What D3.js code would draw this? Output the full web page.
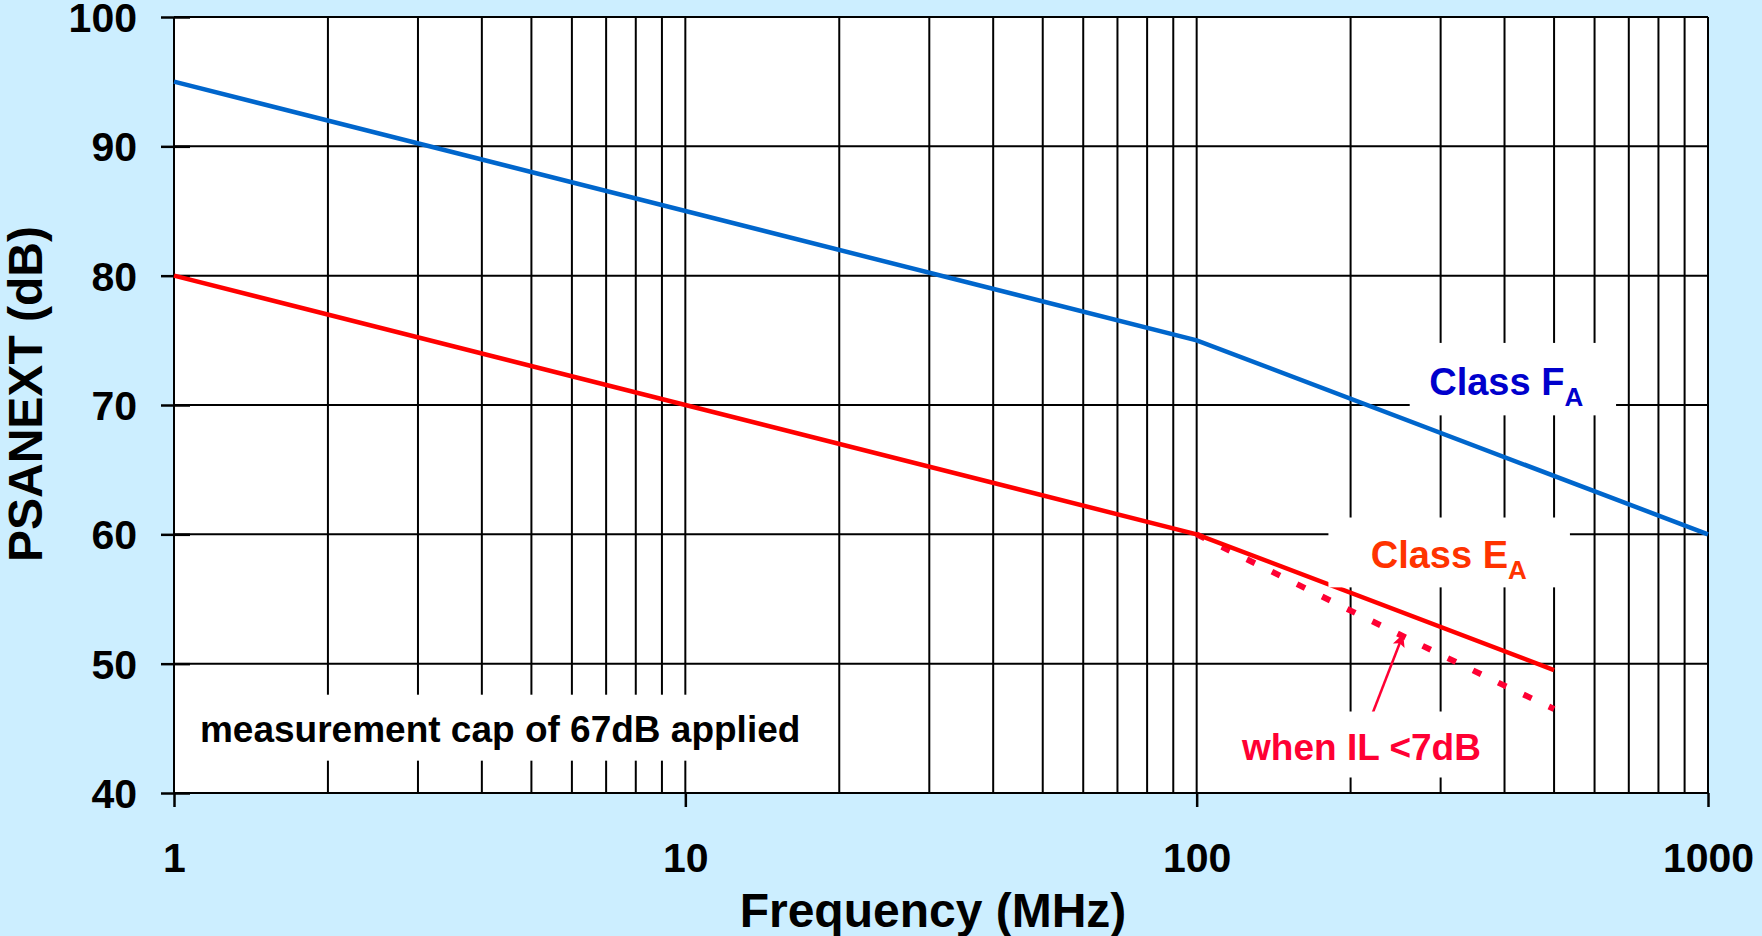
<!DOCTYPE html>
<html>
<head>
<meta charset="utf-8">
<script src="https://cdn.jsdelivr.net/npm/d3@7"></script>
<style>
  body { margin: 0; background: #cceeff; }
  text { font-family: "Liberation Sans", Arial, sans-serif; font-weight: bold; }
</style>
</head>
<body>
<div id="chart"></div>
<script>
// Chart data (frequency in MHz, PSANEXT in dB)
const freqF = [1, 100, 1000];
const classF = [95, 75, 60];
const freqE = [1, 100, 500];
const classE = [80, 60, 49.5];
const freqIL = [100, 200, 300, 400, 500];
const classEIL = [60, 54.1, 50.7, 48.3, 46.5];
const xTicks = [1, 10, 100, 1000];
const yTicks = [40, 50, 60, 70, 80, 90, 100];

// Set graph properties
const width = 1762;
const height = 936;
const margin = { top: 17, bottom: 143, left: 174, right: 54 };

const svg = d3.select('#chart')
    .append('svg')
    .attr('width', width)
    .attr('height', height);

const x = d3.scaleLog()
    .domain([1, 1000])
    .range([margin.left, width - margin.right]);

const y = d3.scaleLinear()
    .domain([40, 100])
    .range([height - margin.bottom, margin.top]);

// White plotting area
svg.append('rect')
    .attr('x', x(1)).attr('y', y(100))
    .attr('width', x(1000) - x(1)).attr('height', y(40) - y(100))
    .attr('fill', '#fff');

// Grid lines, one per log tick and per 10 dB
const grid = svg.append('g').attr('stroke', '#000').attr('stroke-width', 2);
grid.selectAll('.v')
    .data(x.ticks())
    .join('line')
    .attr('x1', d => x(d)).attr('x2', d => x(d))
    .attr('y1', y(100)).attr('y2', y(40));
grid.selectAll('.h')
    .data(yTicks)
    .join('line')
    .attr('x1', x(1)).attr('x2', x(1000))
    .attr('y1', d => y(d)).attr('y2', d => y(d));

// Axes
function yAxis(g) {
    g.attr('transform', `translate(${margin.left},0)`)
        .call(d3.axisLeft(y).tickValues(yTicks).tickSize(13).tickPadding(24))
        .call(g => g.select('.domain').remove())
        .attr('font-size', '41px');
    g.selectAll('.tick line').attr('x1', 16).attr('stroke-width', 2.5);
    g.selectAll('.tick text').attr('dy', 14.5);
}

function xAxis(g) {
    g.attr('transform', `translate(0,${height - margin.bottom})`)
        .call(d3.axisBottom(x).tickValues(xTicks).tickFormat(d3.format('d')).tickSize(14).tickPadding(36))
        .call(g => g.select('.domain').remove())
        .attr('font-size', '41px');
    g.selectAll('.tick line').attr('stroke-width', 2.5);
}

svg.append('g').call(xAxis);
svg.append('g').call(yAxis);
svg.selectAll('.tick text').attr('fill', '#000').attr('font-family', '"Liberation Sans", Arial, sans-serif');

// Axis titles
svg.append('text')
    .attr('x', 933).attr('y', 927)
    .attr('text-anchor', 'middle')
    .attr('font-size', '48px')
    .text('Frequency (MHz)');

svg.append('text')
    .attr('transform', 'translate(42,394) rotate(-90)')
    .attr('text-anchor', 'middle')
    .attr('font-size', '48px')
    .text('PSANEXT (dB)');

// Limit lines
const line = d3.line().x(d => x(d[0])).y(d => y(d[1]));

svg.append('path')
    .datum(d3.zip(freqIL, classEIL))
    .attr('d', line)
    .attr('fill', 'none')
    .attr('stroke', '#ff0033')
    .attr('stroke-width', 6)
    .attr('stroke-dasharray', '9,19');

svg.append('path')
    .datum(d3.zip(freqE, classE))
    .attr('d', line)
    .attr('fill', 'none')
    .attr('stroke', '#ff0000')
    .attr('stroke-width', 4.5);

svg.append('path')
    .datum(d3.zip(freqF, classF))
    .attr('d', line)
    .attr('fill', 'none')
    .attr('stroke', '#0066cc')
    .attr('stroke-width', 4.5);

// Arrow pointing at the dotted line
svg.append('defs').append('marker')
    .attr('id', 'head')
    .attr('viewBox', '0 0 10 10')
    .attr('refX', 9).attr('refY', 5)
    .attr('markerWidth', 7).attr('markerHeight', 5)
    .attr('markerUnits', 'strokeWidth')
    .attr('orient', 'auto')
    .append('path').attr('d', 'M0,0L10,5L0,10L2,5Z').attr('fill', '#ff0033');

svg.append('line')
    .attr('x1', x(221)).attr('y1', y(46.2))
    .attr('x2', x(253)).attr('y2', y(52.2))
    .attr('stroke', '#ff0033')
    .attr('stroke-width', 2.5)
    .attr('marker-end', 'url(#head)');

// White boxes behind the annotations
const boxes = [
    [1.06, 17.7, 47.6, 42.5],
    [261, 661, 74.8, 69.2],
    [181, 537, 61.3, 55.9],
    [116, 378, 46.3, 41.2]
];
svg.append('g').selectAll('rect')
    .data(boxes)
    .join('rect')
    .attr('x', d => x(d[0])).attr('y', d => y(d[2]))
    .attr('width', d => x(d[1]) - x(d[0]))
    .attr('height', d => y(d[3]) - y(d[2]))
    .attr('fill', '#fff');

// Annotations
svg.append('text')
    .attr('x', x(1.124)).attr('y', y(43.94))
    .attr('font-size', '37px')
    .text('measurement cap of 67dB applied');

const lf = svg.append('text')
    .attr('x', x(285)).attr('y', y(70.8))
    .attr('font-size', '38px')
    .attr('fill', '#0000cc');
lf.append('tspan').text('Class F');
lf.append('tspan').attr('dy', 11).attr('font-size', '26px').text('A');

const le = svg.append('text')
    .attr('x', x(219)).attr('y', y(57.4))
    .attr('font-size', '38px')
    .attr('fill', '#ff3300');
le.append('tspan').text('Class E');
le.append('tspan').attr('dy', 11).attr('font-size', '26px').text('A');

svg.append('text')
    .attr('x', x(122.7)).attr('y', y(42.55))
    .attr('font-size', '37px')
    .attr('fill', '#ff0033')
    .text('when IL <7dB');
</script>
</body>
</html>
